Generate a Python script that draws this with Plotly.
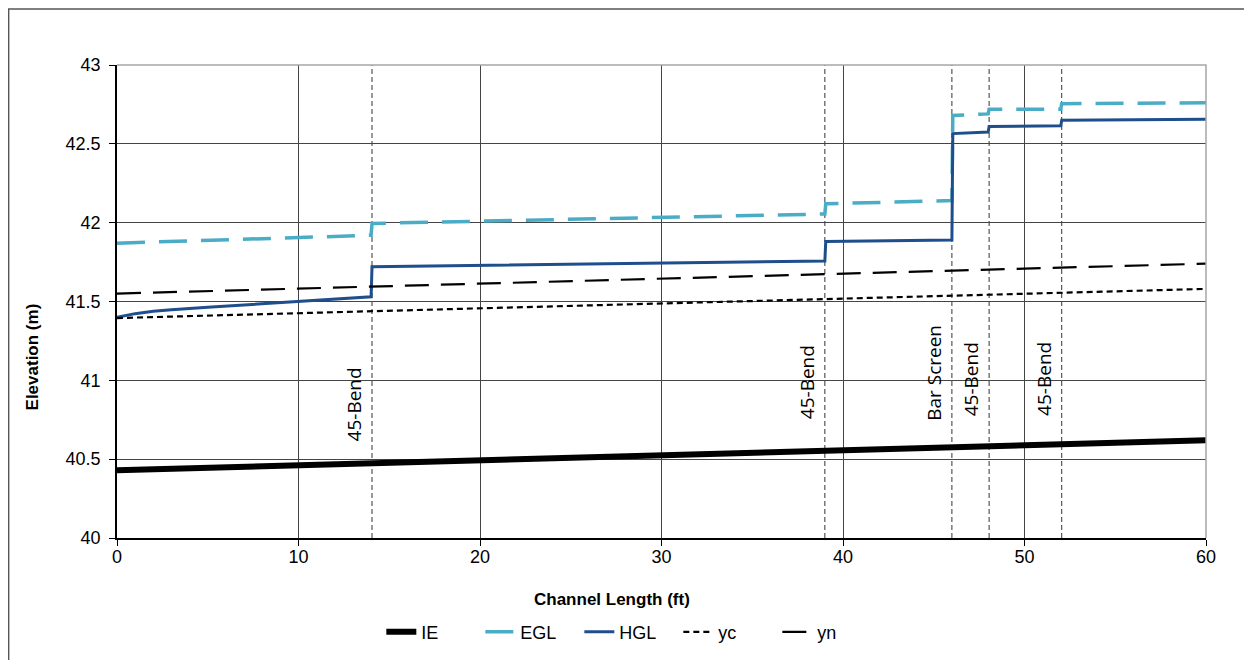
import plotly.graph_objects as go

# ---- data ----
ie_x = [0, 60]
ie_y = [40.43, 40.62]

egl_x = [0, 14.0, 14.05, 39.0, 39.05, 46.0, 46.05, 48.0, 48.05, 52.0, 52.05, 60]
egl_y = [41.87, 41.92, 41.995, 42.055, 42.12, 42.14, 42.68, 42.69, 42.72, 42.72, 42.755, 42.76]

hgl_x = [0, 0.5, 1, 2, 3, 5, 7, 10, 14.0, 14.05, 39.0, 39.05, 46.0, 46.05, 48.0, 48.05, 52.0, 52.05, 60]
hgl_y = [41.40, 41.413, 41.423, 41.438, 41.448, 41.463, 41.477, 41.50, 41.53, 41.72, 41.757, 41.88, 41.89,
         42.565, 42.575, 42.61, 42.615, 42.65, 42.656]

yc_x = [0, 60]
yc_y = [41.395, 41.58]

yn_x = [0, 60]
yn_y = [41.55, 41.74]

feature_x = [14.05, 39.0, 46.0, 48.05, 52.05]
feature_labels = ["45-Bend", "45-Bend", "Bar Screen", "45-Bend", "45-Bend"]
label_bottom = [40.60, 40.74, 40.73, 40.76, 40.76]

x_ticks = [0, 10, 20, 30, 40, 50, 60]
y_ticks = [40, 40.5, 41, 41.5, 42, 42.5, 43]
y_tick_text = ["40", "40.5", "41", "41.5", "42", "42.5", "43"]

# ---- figure ----
fig = go.Figure()
fig.add_trace(go.Scatter(x=ie_x, y=ie_y, mode="lines", name="IE",
                         line=dict(color="black", width=6)))
fig.add_trace(go.Scatter(x=egl_x, y=egl_y, mode="lines", name="EGL",
                         line=dict(color="#4BACC6", width=3.5, dash="28px,14px")))
fig.add_trace(go.Scatter(x=hgl_x, y=hgl_y, mode="lines", name="HGL",
                         line=dict(color="#1F4E8C", width=3)))
fig.add_trace(go.Scatter(x=yc_x, y=yc_y, mode="lines", name="yc",
                         line=dict(color="black", width=2.2, dash="6px,4px")))
fig.add_trace(go.Scatter(x=yn_x, y=yn_y, mode="lines", name="yn",
                         line=dict(color="black", width=2.2, dash="24px,12px")))

for fx, lab, lb in zip(feature_x, feature_labels, label_bottom):
    fig.add_shape(type="line", xref="x", yref="y", x0=fx, x1=fx, y0=40, y1=43,
                  line=dict(color="#333333", width=1, dash="5px,3px"), layer="below")
    fig.add_annotation(x=fx, y=lb, xref="x", yref="y", text=lab, textangle=-90,
                       showarrow=False, xanchor="right", yanchor="bottom", xshift=-3,
                       font=dict(family="Open Sans", size=19, color="black"))

# top/right plot border in light gray
fig.add_shape(type="path", xref="paper", yref="paper",
              path="M 0 1 L 1 1 L 1 0", line=dict(color="#A6A6A6", width=1.5))

# outer chart frame (top and left edges visible)
fig.add_shape(type="path", xref="paper", yref="paper",
              path="M -0.0995 -0.3 L -0.0995 1.1185 L 1.2 1.1185",
              line=dict(color="#555555", width=1.5))

# axis titles
fig.add_annotation(x=0.455, y=-0.131, xref="paper", yref="paper", text="<b>Channel Length (ft)</b>",
                   showarrow=False, xanchor="center", yanchor="middle",
                   font=dict(family="Liberation Sans", size=17, color="black"))
fig.add_annotation(x=-0.0775, y=0.383, xref="paper", yref="paper", text="<b>Elevation (m)</b>",
                   showarrow=False, textangle=-90, xanchor="center", yanchor="middle",
                   font=dict(family="Liberation Sans", size=17, color="black"))

fig.update_layout(
    width=1252, height=660,
    margin=dict(l=109, r=54, t=57, b=130),
    paper_bgcolor="white", plot_bgcolor="white",
    font=dict(family="Liberation Sans", size=18, color="black"),
    showlegend=True,
    legend=dict(orientation="h", x=0.47, xanchor="center", y=-0.199, yanchor="middle",
                font=dict(family="Liberation Sans", size=18, color="black"),
                entrywidth=54, tracegroupgap=0),
    xaxis=dict(range=[0, 60], tickvals=x_ticks, showgrid=True, gridcolor="#454545", gridwidth=1,
               showline=True, linecolor="black", linewidth=1.5, ticks="outside", ticklen=6,
               tickcolor="black", zeroline=False, tickfont=dict(size=18), ticklabelstandoff=-4),
    yaxis=dict(range=[40, 43], tickvals=y_ticks, ticktext=y_tick_text, showgrid=True,
               gridcolor="#454545", gridwidth=1, showline=True, linecolor="black", linewidth=1.5,
               ticks="outside", ticklen=6, tickcolor="black", zeroline=False, tickfont=dict(size=18),
               ticklabelstandoff=5),
)

fig.write_html("out.html")
